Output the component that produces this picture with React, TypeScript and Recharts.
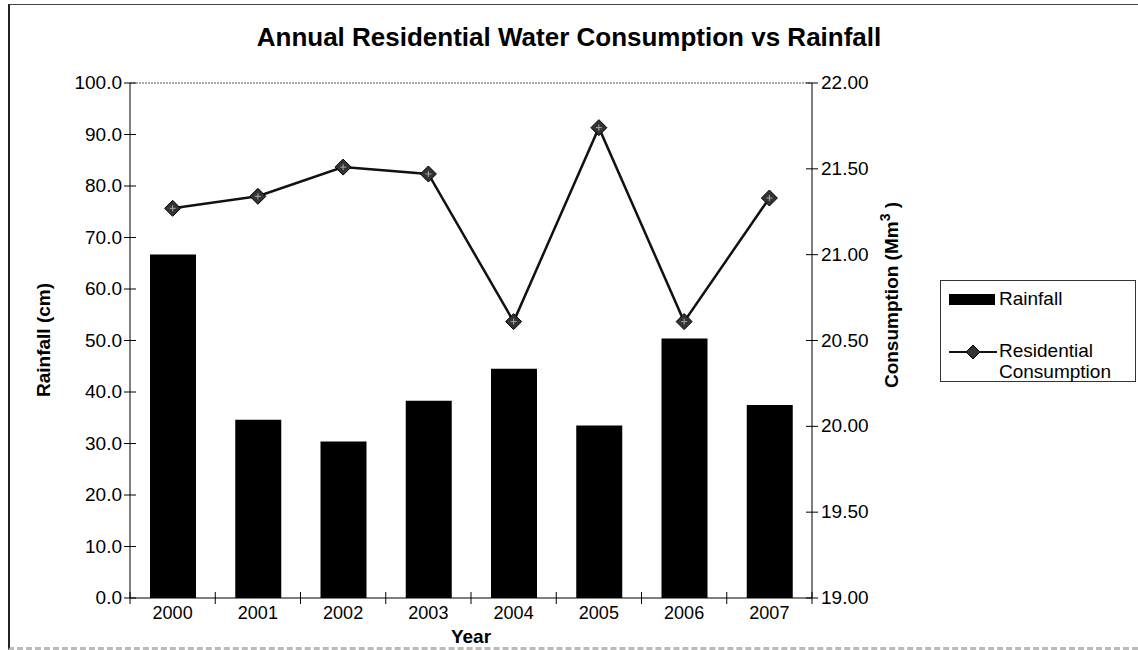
import { ComposedChart, Bar, Line, XAxis, YAxis, ReferenceLine } from "recharts";

const years = ["2000", "2001", "2002", "2003", "2004", "2005", "2006", "2007"];
const rainfall = [66.7, 34.6, 30.4, 38.3, 44.5, 33.5, 50.4, 37.5];
const consumption = [21.27, 21.34, 21.51, 21.47, 20.61, 21.74, 20.61, 21.33];
const rainTicks = [0, 10, 20, 30, 40, 50, 60, 70, 80, 90, 100];
const consTicks = [19, 19.5, 20, 20.5, 21, 21.5, 22];

const data = years.map((year, i) => ({
  year,
  rainfall: rainfall[i],
  consumption: consumption[i],
}));

const FONT = "'Liberation Sans', Arial, sans-serif";
const PLOT_LEFT = 130;
const PLOT_RIGHT = 812;
const PLOT_BOTTOM = 598;
const CAT_W = (PLOT_RIGHT - PLOT_LEFT) / years.length;

const LeftTick = (props: any) => {
  const { y, payload } = props;
  return (
    <g>
      <line x1={PLOT_LEFT - 6} x2={PLOT_LEFT + 6} y1={y} y2={y} stroke="#000" />
      <text x={PLOT_LEFT - 8} y={y} dy={6} textAnchor="end" fontSize={19} fill="#000" fontFamily={FONT}>
        {Number(payload.value).toFixed(1)}
      </text>
    </g>
  );
};

const RightTick = (props: any) => {
  const { y, payload } = props;
  return (
    <g>
      <line x1={PLOT_RIGHT - 6} x2={PLOT_RIGHT + 6} y1={y} y2={y} stroke="#000" />
      <text x={PLOT_RIGHT + 9} y={y} dy={6} textAnchor="start" fontSize={19} fill="#000" fontFamily={FONT}>
        {Number(payload.value).toFixed(2)}
      </text>
    </g>
  );
};

// category labels plus the cross tick marks that sit between categories
const YearTick = (props: any) => {
  const { x, payload, index } = props;
  return (
    <g>
      {index === 0 && (
        <line x1={x - CAT_W / 2} x2={x - CAT_W / 2} y1={PLOT_BOTTOM - 6} y2={PLOT_BOTTOM + 6} stroke="#000" />
      )}
      <line x1={x + CAT_W / 2} x2={x + CAT_W / 2} y1={PLOT_BOTTOM - 6} y2={PLOT_BOTTOM + 6} stroke="#000" />
      <text x={x} y={PLOT_BOTTOM + 21} textAnchor="middle" fontSize={18} fill="#000" fontFamily={FONT}>
        {payload.value}
      </text>
    </g>
  );
};

const Diamond = (props: any) => {
  const { cx, cy } = props;
  if (cx == null || cy == null) return null;
  const r = 8;
  return (
    <g>
      <polygon
        points={`${cx},${cy - r} ${cx + r},${cy} ${cx},${cy + r} ${cx - r},${cy}`}
        fill="#333"
        stroke="#000"
        strokeWidth={1}
      />
      <line x1={cx - 3} x2={cx + 3} y1={cy} y2={cy} stroke="#aaa" />
      <line x1={cx} x2={cx} y1={cy - 3} y2={cy + 3} stroke="#aaa" />
    </g>
  );
};

export default function App() {
  return (
    <div style={{ position: "absolute", left: 0, top: 0, width: 1138, height: 650, background: "#fff", fontFamily: FONT }}>
      <div
        style={{
          position: "absolute",
          left: 8,
          top: 4,
          width: 1130,
          height: 646,
          borderTop: "1px solid #444",
          borderLeft: "2px solid #222",
          borderBottom: "3px dashed #bbb",
          boxSizing: "border-box",
        }}
      />
      <div
        style={{
          position: "absolute",
          left: 0,
          width: 1138,
          top: 22,
          textAlign: "center",
          fontSize: 26,
          fontWeight: "bold",
        }}
      >
        Annual Residential Water Consumption vs Rainfall
      </div>

      <ComposedChart
        width={1138}
        height={650}
        data={data}
        margin={{ top: 83, right: 266, bottom: 0, left: 70 }}
        style={{ position: "absolute", left: 0, top: 0 }}
      >
        <XAxis
          dataKey="year"
          height={52}
          axisLine={{ stroke: "#000" }}
          tickLine={false}
          tick={<YearTick />}
          interval={0}
        />
        <YAxis
          yAxisId="left"
          orientation="left"
          width={60}
          domain={[0, 100]}
          ticks={rainTicks}
          axisLine={{ stroke: "#000" }}
          tickLine={false}
          tick={<LeftTick />}
          interval={0}
        />
        <YAxis
          yAxisId="right"
          orientation="right"
          width={60}
          domain={[19, 22]}
          ticks={consTicks}
          axisLine={{ stroke: "#000" }}
          tickLine={false}
          tick={<RightTick />}
          interval={0}
        />
        <ReferenceLine yAxisId="left" y={100} stroke="#555" strokeDasharray="2 1" />
        <Bar yAxisId="left" dataKey="rainfall" fill="#000" barSize={46} isAnimationActive={false} />
        <Line
          yAxisId="right"
          dataKey="consumption"
          stroke="#111"
          strokeWidth={2.5}
          dot={<Diamond />}
          activeDot={false}
          isAnimationActive={false}
        />
      </ComposedChart>

      <div
        style={{
          position: "absolute",
          left: 44,
          top: 340,
          transform: "translate(-50%, -50%) rotate(-90deg)",
          fontSize: 19,
          fontWeight: "bold",
          whiteSpace: "nowrap",
        }}
      >
        Rainfall (cm)
      </div>
      <div
        style={{
          position: "absolute",
          left: 890,
          top: 295,
          transform: "translate(-50%, -50%) rotate(-90deg)",
          fontSize: 19,
          fontWeight: "bold",
          whiteSpace: "nowrap",
        }}
      >
        Consumption (Mm<sup style={{ fontSize: 14 }}>3</sup> )
      </div>
      <div
        style={{
          position: "absolute",
          left: 471,
          top: 637,
          transform: "translate(-50%, -50%)",
          fontSize: 19,
          fontWeight: "bold",
        }}
      >
        Year
      </div>

      <div
        style={{
          position: "absolute",
          left: 940,
          top: 280,
          width: 196,
          height: 102,
          border: "1px solid #333",
          boxSizing: "border-box",
          fontSize: 19,
        }}
      >
        <div style={{ position: "absolute", left: 8, top: 13, width: 46, height: 11, background: "#000" }} />
        <div style={{ position: "absolute", left: 58, top: 7, lineHeight: "22px" }}>Rainfall</div>
        <svg style={{ position: "absolute", left: 8, top: 62 }} width={48} height={18}>
          <line x1={0} x2={48} y1={9} y2={9} stroke="#111" strokeWidth={2} />
          <polygon points="24,2 31,9 24,16 17,9" fill="#333" stroke="#000" />
        </svg>
        <div style={{ position: "absolute", left: 58, top: 59, lineHeight: "21px" }}>
          Residential
          <br />
          Consumption
        </div>
      </div>
    </div>
  );
}
